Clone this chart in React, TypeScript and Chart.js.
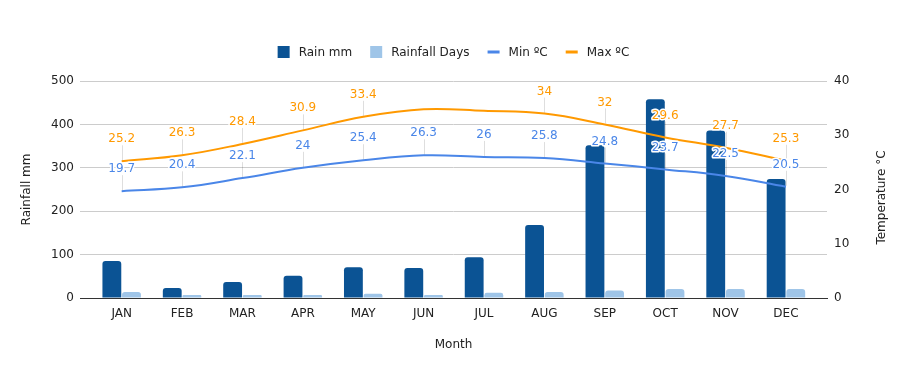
import React, { useEffect, useRef } from 'react';
import { Chart, registerables } from 'chart.js';

Chart.register(...registerables);

const months = ['JAN', 'FEB', 'MAR', 'APR', 'MAY', 'JUN', 'JUL', 'AUG', 'SEP', 'OCT', 'NOV', 'DEC'];
const rainMm = [85, 23, 37, 51, 71, 69, 94, 168, 352, 458, 386, 274];
const rainDays = [14, 7, 7, 7, 10, 7, 12, 14, 17, 21, 21, 21];
const minTemp = [19.7, 20.4, 22.1, 24, 25.4, 26.3, 26, 25.8, 24.8, 23.7, 22.5, 20.5];
const maxTemp = [25.2, 26.3, 28.4, 30.9, 33.4, 34.8, 34.5, 34, 32, 29.6, 27.7, 25.3];
const maxLabelShown = [true, true, true, true, true, false, false, true, true, true, true, true];
const minLabelShown = [true, true, true, true, true, true, true, true, true, true, true, true];

const legendItems = [
  { label: 'Rain mm', color: '#0b5394', kind: 'box' },
  { label: 'Rainfall Days', color: '#9fc5e8', kind: 'box' },
  { label: 'Min ºC', color: '#4a86e8', kind: 'line' },
  { label: 'Max ºC', color: '#ff9900', kind: 'line' },
];

const FONT = '"DejaVu Sans", Verdana, sans-serif';
const TEXT = '#222222';

const overlayPlugin = {
  id: 'overlay',
  afterDatasetsDraw(chart: any) {
    const ctx = chart.ctx;
    const area = chart.chartArea;
    ctx.save();
    const drawAnn = (dsIndex: number, values: number[], shown: boolean[], color: string) => {
      const meta = chart.getDatasetMeta(dsIndex);
      meta.data.forEach((pt: any, i: number) => {
        if (!shown[i]) return;
        const x = pt.x;
        const y = pt.y;
        ctx.strokeStyle = 'rgba(0,0,0,0.13)';
        ctx.lineWidth = 1;
        ctx.beginPath();
        ctx.moveTo(Math.round(x) + 0.5, y - 1);
        ctx.lineTo(Math.round(x) + 0.5, y - 16);
        ctx.stroke();
        ctx.font = `12px ${FONT}`;
        ctx.textAlign = 'center';
        ctx.textBaseline = 'middle';
        ctx.lineJoin = 'round';
        ctx.strokeStyle = '#ffffff';
        ctx.lineWidth = 3;
        const t = String(values[i]);
        ctx.strokeText(t, x, y - 22);
        ctx.fillStyle = color;
        ctx.fillText(t, x, y - 22);
      });
    };
    drawAnn(3, maxTemp, maxLabelShown, '#ff9900');
    drawAnn(2, minTemp, minLabelShown, '#4a86e8');

    ctx.font = `12px ${FONT}`;
    ctx.fillStyle = TEXT;
    ctx.textAlign = 'center';
    ctx.textBaseline = 'middle';
    ctx.save();
    ctx.translate(27, (area.top + area.bottom) / 2);
    ctx.rotate(-Math.PI / 2);
    ctx.fillText('Rainfall mm', 0, 0);
    ctx.restore();
    ctx.save();
    ctx.translate(882, (area.top + area.bottom) / 2 + 8);
    ctx.rotate(-Math.PI / 2);
    ctx.fillText('Temperature °C', 0, 0);
    ctx.restore();
    ctx.fillText('Month', (area.left + area.right) / 2, 345);

    ctx.font = `12px ${FONT}`;
    const box = 12;
    const gap = 9;
    const spacing = 18;
    const widths = legendItems.map((it) => box + gap + ctx.measureText(it.label).width);
    const total = widths.reduce((a, b) => a + b, 0) + spacing * (legendItems.length - 1);
    let lx = (area.left + area.right) / 2 - total / 2;
    const ly = 52;
    legendItems.forEach((it, i) => {
      ctx.fillStyle = it.color;
      if (it.kind === 'box') {
        ctx.fillRect(lx, ly - 6, box, box);
      } else {
        ctx.fillRect(lx, ly - 1.5, box, 3);
      }
      ctx.fillStyle = TEXT;
      ctx.textAlign = 'left';
      ctx.fillText(it.label, lx + box + gap, ly + 0.5);
      lx += widths[i] + spacing;
    });
    ctx.restore();
  },
};

export default function App() {
  const ref = useRef<HTMLCanvasElement | null>(null);
  useEffect(() => {
    if (!ref.current) return;
    const tickFont = { family: FONT, size: 12 };
    const chart = new Chart(ref.current, {
      type: 'bar',
      data: {
        labels: months.map((_, i) => i),
        datasets: [
          {
            type: 'bar',
            label: 'Rain mm',
            data: rainMm,
            backgroundColor: '#0b5394',
            yAxisID: 'y',
            order: 2,
            borderRadius: { topLeft: 3, topRight: 3, bottomLeft: 0, bottomRight: 0 },
            borderSkipped: 'bottom',
            categoryPercentage: 0.65,
            barPercentage: 0.96,
          },
          {
            type: 'bar',
            label: 'Rainfall Days',
            data: rainDays,
            backgroundColor: '#9fc5e8',
            yAxisID: 'y',
            order: 2,
            borderRadius: { topLeft: 3, topRight: 3, bottomLeft: 0, bottomRight: 0 },
            borderSkipped: 'bottom',
            categoryPercentage: 0.65,
            barPercentage: 0.96,
          },
          {
            type: 'line',
            label: 'Min ºC',
            data: minTemp,
            borderColor: '#4a86e8',
            backgroundColor: '#4a86e8',
            borderWidth: 2,
            pointRadius: 0,
            tension: 0.4,
            yAxisID: 'y1',
            order: 1,
          },
          {
            type: 'line',
            label: 'Max ºC',
            data: maxTemp,
            borderColor: '#ff9900',
            backgroundColor: '#ff9900',
            borderWidth: 2,
            pointRadius: 0,
            tension: 0.4,
            yAxisID: 'y1',
            order: 0,
          },
        ],
      } as any,
      options: {
        responsive: false,
        animation: false,
        devicePixelRatio: 1,
        layout: { padding: { top: 81, left: 0, right: 0, bottom: 0 } },
        plugins: { legend: { display: false }, tooltip: { enabled: false } },
        scales: {
          x: {
            type: 'linear',
            offset: false,
            min: -0.69,
            max: 11.68,
            grid: { display: false, drawTicks: false, offset: false },
            border: { display: true, color: '#333333', width: 1 },
            ticks: {
              autoSkip: false,
              maxRotation: 0,
              padding: 9,
              font: tickFont,
              color: TEXT,
              callback: (v: any) => months[v] ?? '',
            },
            afterBuildTicks: (s: any) => {
              s.ticks = months.map((_, i) => ({ value: i }));
            },
            afterFit: (s: any) => {
              s.height = 73;
            },
          },
          y: {
            position: 'left',
            min: 0,
            max: 500,
            ticks: { stepSize: 100, padding: 6, font: tickFont, color: TEXT },
            grid: {
              drawTicks: false,
              color: (c: any) => (c.tick && c.tick.value === 0 ? '#333333' : '#cccccc'),
            },
            border: { display: false },
            afterFit: (s: any) => {
              s.width = 80;
            },
          },
          y1: {
            position: 'right',
            min: 0,
            max: 40,
            ticks: { stepSize: 10, padding: 7, font: tickFont, color: TEXT },
            grid: { display: false, drawTicks: false },
            border: { display: false },
            afterFit: (s: any) => {
              s.width = 81;
            },
          },
        },
      } as any,
      plugins: [overlayPlugin],
    });
    return () => chart.destroy();
  }, []);
  return (
    <div style={{ position: 'absolute', left: 0, top: 0, width: 908, height: 371 }}>
      <canvas ref={ref} width={908} height={371} style={{ width: 908, height: 371, display: 'block' }} />
    </div>
  );
}
